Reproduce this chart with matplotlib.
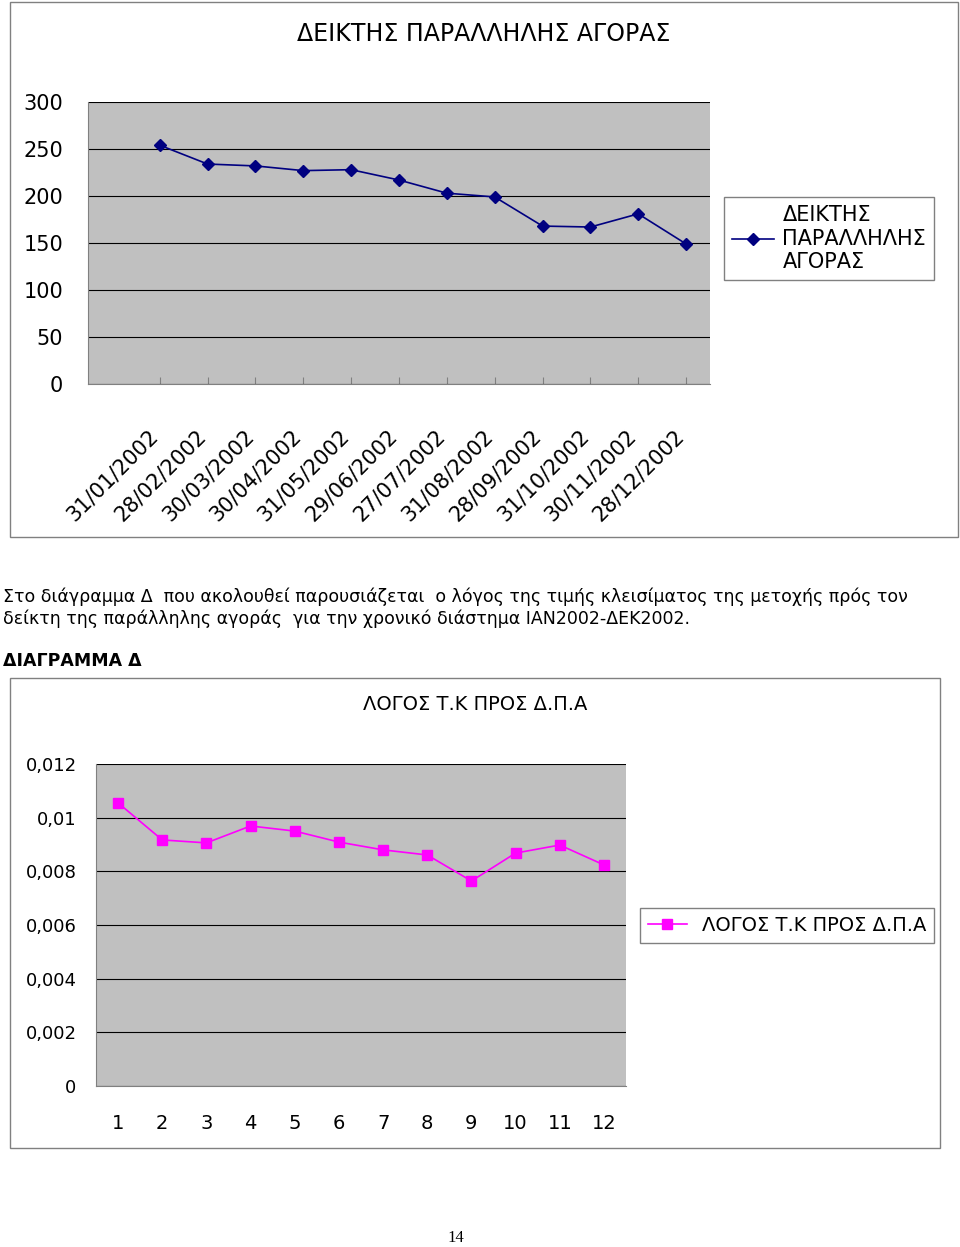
import matplotlib.pyplot as plt
import matplotlib.transforms as mtransforms
from matplotlib.patches import Rectangle

dates = ['31/01/2002', '28/02/2002', '30/03/2002', '30/04/2002', '31/05/2002', '29/06/2002',
         '27/07/2002', '31/08/2002', '28/09/2002', '31/10/2002', '30/11/2002', '28/12/2002']
index_values = [254, 234, 232, 227, 228, 217, 203, 199, 168, 167, 181, 149]
months = [1, 2, 3, 4, 5, 6, 7, 8, 9, 10, 11, 12]
ratio_values = [0.01055, 0.00917, 0.00906, 0.00969, 0.0095, 0.00909,
                0.0088, 0.00861, 0.00764, 0.00868, 0.00898, 0.00824]

W, H = 960, 1247
fig = plt.figure(figsize=(9.6, 12.47), dpi=100)
plt.rcParams['font.family'] = 'DejaVu Sans'


def box(x0, y0, x1, y1):
    fig.patches.append(Rectangle((x0 / W, 1 - y1 / H), (x1 - x0) / W, (y1 - y0) / H,
                                 transform=fig.transFigure, fill=False, edgecolor='#808080', lw=1))


def axes_px(x0, y0, x1, y1):
    return fig.add_axes([x0 / W, 1 - y1 / H, (x1 - x0) / W, (y1 - y0) / H])


def style(ax):
    ax.set_facecolor('#C0C0C0')
    for s in ['top', 'right']:
        ax.spines[s].set_visible(False)
    ax.spines['left'].set_color('#808080')
    ax.spines['bottom'].set_color('#808080')
    ax.grid(axis='y', color='black', lw=0.8)
    ax.set_axisbelow(True)
    ax.tick_params(axis='y', length=0, pad=18)
    ax.tick_params(axis='x', length=5, color='#808080', direction='in')


# top chart
box(10, 2, 958, 537)
ax1 = axes_px(88, 102, 710, 384)
style(ax1)
xs = list(range(len(dates)))
ax1.plot(xs, index_values, color='#000080', marker='D', markersize=6, lw=1.2,
         label='ΔΕΙΚΤΗΣ\nΠΑΡΑΛΛΗΛΗΣ\nΑΓΟΡΑΣ')
ax1.set_xlim(-1.5, 11.5)
ax1.set_ylim(0, 300)
ax1.set_yticks(range(0, 301, 50))
ax1.set_xticks(xs)
ax1.set_xticklabels(dates, rotation=45, ha='right', rotation_mode='anchor', fontsize=15)
ax1.tick_params(axis='x', pad=30)
shift = mtransforms.ScaledTranslation(-0.12, 0, fig.dpi_scale_trans)
for lab in ax1.get_xticklabels():
    lab.set_transform(lab.get_transform() + shift)
ax1.tick_params(axis='y', labelsize=15)
fig.text(484 / W, 1 - 34 / H, 'ΔΕΙΚΤΗΣ ΠΑΡΑΛΛΗΛΗΣ ΑΓΟΡΑΣ', fontsize=17, ha='center', va='center')
fig.legend(*ax1.get_legend_handles_labels(), loc='upper left',
           bbox_to_anchor=(724 / W, 1 - 197 / H), fancybox=False, edgecolor='#808080',
           fontsize=15, handlelength=2, handletextpad=0.4, borderaxespad=0, framealpha=1)

# text between charts
fig.text(3 / W, 1 - 608 / H, 'Στο διάγραμμα Δ  που ακολουθεί παρουσιάζεται  ο λόγος της τιμής κλεισίματος της μετοχής πρός τον\n'
         'δείκτη της παράλληλης αγοράς  για την χρονικό διάστημα ΙΑΝ2002-ΔΕΚ2002.',
         fontsize=12.5, va='center', linespacing=1.25)
fig.text(3 / W, 1 - 661 / H, 'ΔΙΑΓΡΑΜΜΑ Δ', fontsize=12.5, fontweight='bold', va='center')

# bottom chart
box(10, 678, 940, 1148)
ax2 = axes_px(96, 764, 626, 1086)
style(ax2)
ax2.plot(months, ratio_values, color='#FF00FF', marker='s', markersize=7, lw=1.2,
         label='ΛΟΓΟΣ Τ.Κ ΠΡΟΣ Δ.Π.Α')
ax2.set_xlim(0.5, 12.5)
ax2.set_ylim(0, 0.012)
yt = [0, 0.002, 0.004, 0.006, 0.008, 0.01, 0.012]
ax2.set_yticks(yt)
ax2.set_yticklabels(['0', '0,002', '0,004', '0,006', '0,008', '0,01', '0,012'], fontsize=13)
ax2.set_xticks(months)
ax2.set_xticklabels([str(m) for m in months], fontsize=14)
ax2.tick_params(axis='x', length=0, pad=20)
ax2.tick_params(axis='y', pad=14)
fig.text(475 / W, 1 - 705 / H, 'ΛΟΓΟΣ Τ.Κ ΠΡΟΣ Δ.Π.Α', fontsize=14, ha='center', va='center')
fig.legend(*ax2.get_legend_handles_labels(), loc='upper left',
           bbox_to_anchor=(640 / W, 1 - 908 / H), fancybox=False, edgecolor='#808080',
           fontsize=14, handlelength=2, borderaxespad=0, framealpha=1)

fig.text(456 / W, 1 - 1238 / H, '14', fontsize=12, ha='center', va='center', family='Liberation Serif')

fig.savefig('out.png', dpi=100)
